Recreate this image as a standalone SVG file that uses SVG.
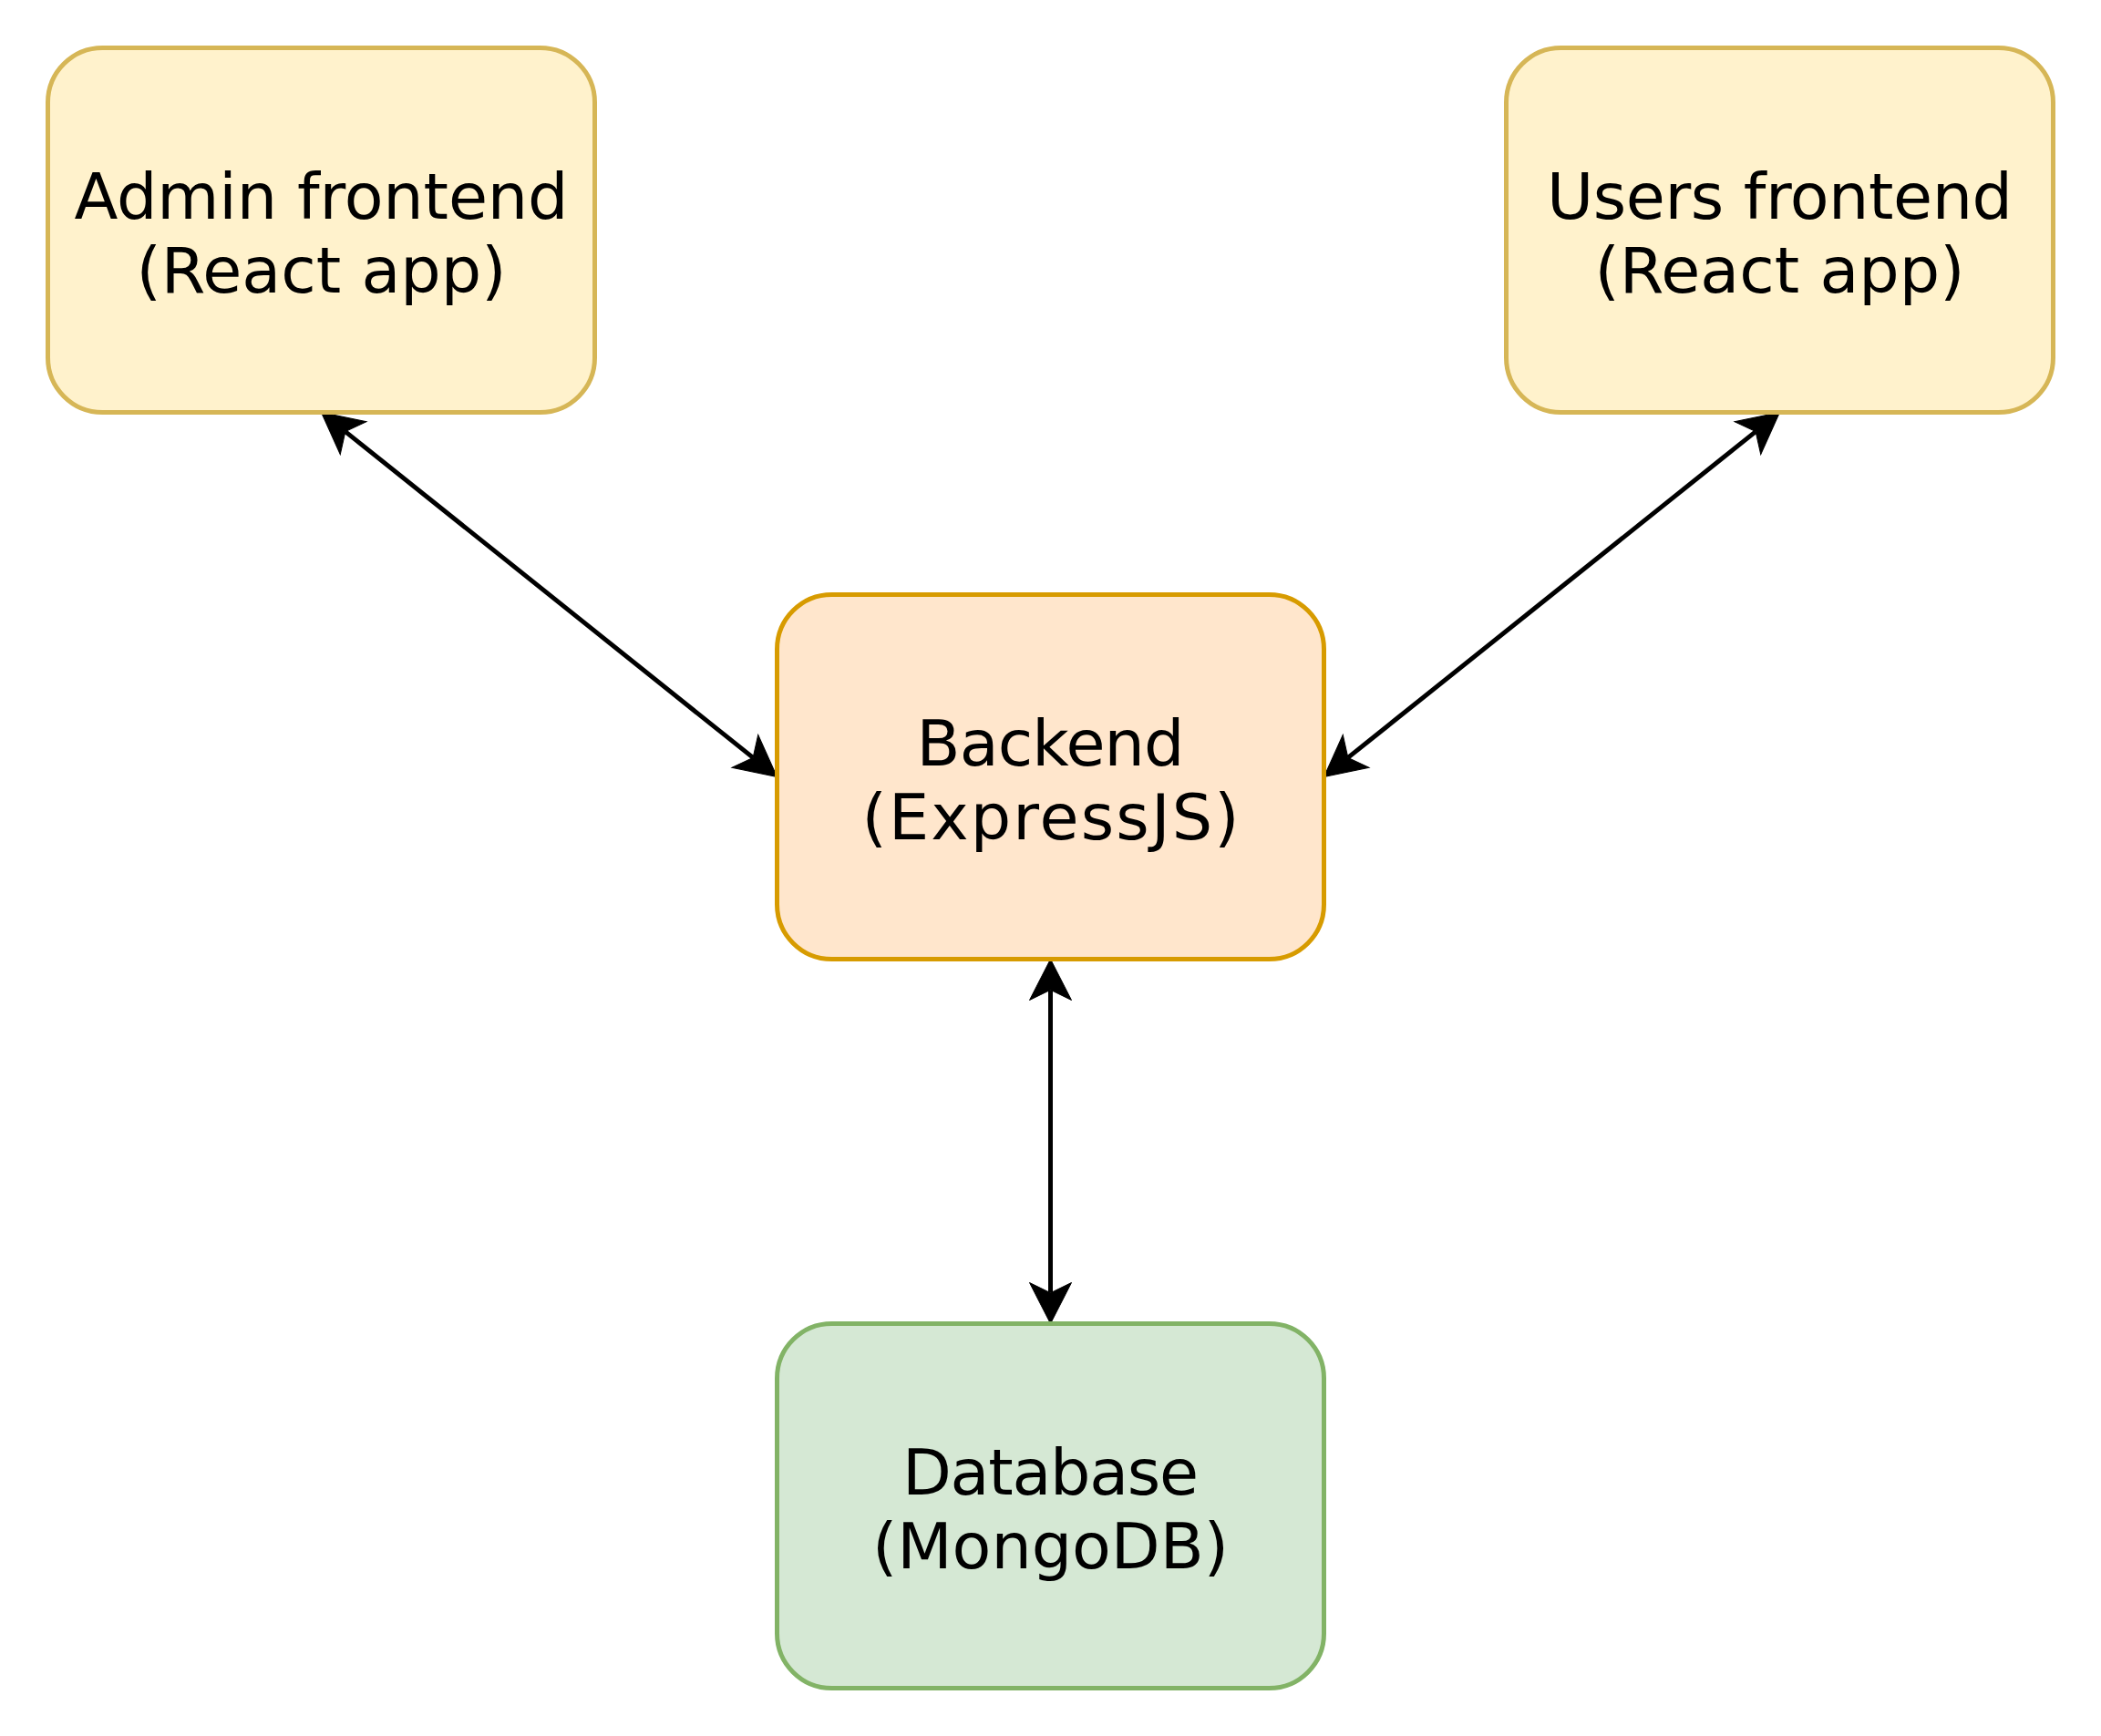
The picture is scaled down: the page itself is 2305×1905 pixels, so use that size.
<svg xmlns="http://www.w3.org/2000/svg" width="2305" height="1905" viewBox="0 0 2305 1905">
<style>
.box{stroke-width:5}
.fe{fill:#fff2cc;stroke:#d6b656}
.be{fill:#ffe6cc;stroke:#d79b00}
.db{fill:#d5e8d4;stroke:#82b366}
.lbl{font-family:"DejaVu Sans",Verdana,sans-serif;font-size:70px;fill:#000;text-anchor:middle}
.edge{stroke:#000;stroke-width:5;fill:none}
</style>
<defs>
<marker id="arr" markerUnits="userSpaceOnUse" markerWidth="50" markerHeight="50" viewBox="0 -25 50 50" refX="11.25" refY="0" orient="auto-start-reverse" overflow="visible">
<path d="M45,0 L0,-23 L11.25,0 L0,23 Z" fill="#000" stroke="#000" stroke-width="1"/>
</marker>
</defs>
<rect width="2305" height="1905" fill="#fff"/>
<g id="connectors">
<line class="edge" x1="378.86" y1="473.58" x2="826.14" y2="831.42" marker-start="url(#arr)" marker-end="url(#arr)"/>
<line class="edge" x1="1926.14" y1="473.58" x2="1478.86" y2="831.42" marker-start="url(#arr)" marker-end="url(#arr)"/>
<line class="edge" x1="1152.5" y1="1086.25" x2="1152.5" y2="1418.75" marker-start="url(#arr)" marker-end="url(#arr)"/>
</g>
<g id="admin">
<rect class="box fe" x="52.5" y="52.5" width="600" height="400" rx="60" ry="60"/>
<text class="lbl" x="352.5" y="240" textLength="542" lengthAdjust="spacing">Admin frontend</text>
<text class="lbl" x="352.5" y="321" textLength="406" lengthAdjust="spacing">(React app)</text>
</g>
<g id="users">
<rect class="box fe" x="1652.5" y="52.5" width="600" height="400" rx="60" ry="60"/>
<text class="lbl" x="1952.5" y="240" textLength="511" lengthAdjust="spacing">Users frontend</text>
<text class="lbl" x="1952.5" y="321" textLength="406" lengthAdjust="spacing">(React app)</text>
</g>
<g id="backend">
<rect class="box be" x="852.5" y="652.5" width="600" height="400" rx="60" ry="60"/>
<text class="lbl" x="1152.5" y="840" textLength="294" lengthAdjust="spacing">Backend</text>
<text class="lbl" x="1152.5" y="921" textLength="414" lengthAdjust="spacing">(ExpressJS)</text>
</g>
<g id="database">
<rect class="box db" x="852.5" y="1452.5" width="600" height="400" rx="60" ry="60"/>
<text class="lbl" x="1152.5" y="1640" textLength="325" lengthAdjust="spacing">Database</text>
<text class="lbl" x="1152.5" y="1721" textLength="391" lengthAdjust="spacing">(MongoDB)</text>
</g>
</svg>
